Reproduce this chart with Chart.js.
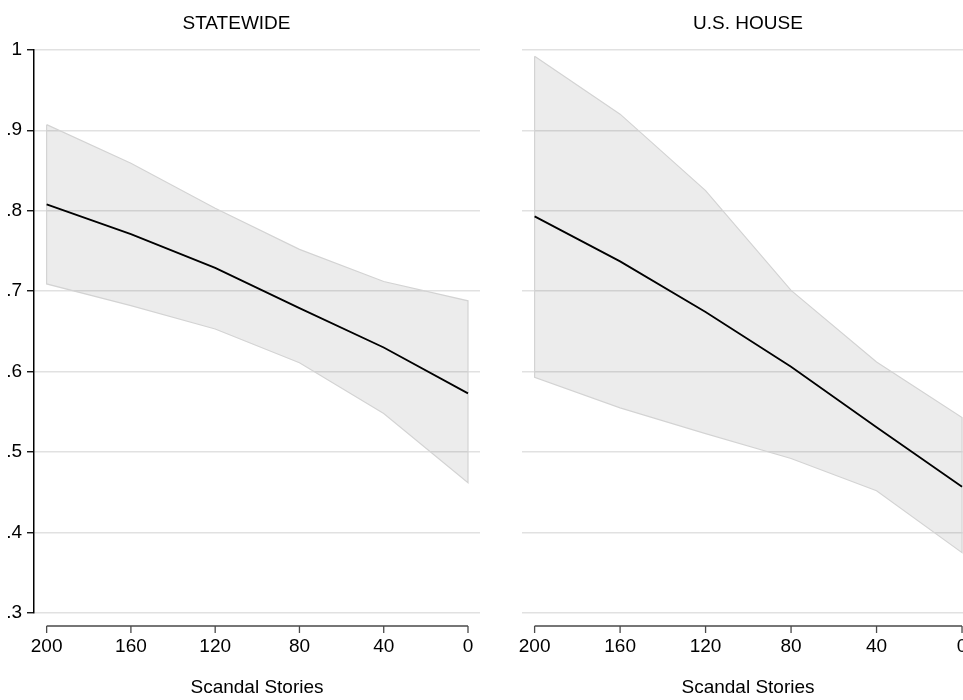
<!DOCTYPE html>
<html>
<head>
<meta charset="utf-8">
<script src="https://cdn.jsdelivr.net/npm/chart.js@4.4.1/dist/chart.umd.min.js"></script>
<style>
html, body { margin: 0; padding: 0; background: #fff; width: 963px; height: 700px; overflow: hidden; }
#wrap { position: relative; width: 963px; height: 700px; overflow: hidden; }
#leftChart { position: absolute; left: -7px; top: 0; }
#rightChart { position: absolute; left: 482px; top: 0; }
</style>
</head>
<body>
<div id="wrap">
    <canvas id="leftChart" width="489" height="700"></canvas>
    <canvas id="rightChart" width="520" height="700"></canvas>
</div>
<script>
// Data
const scandalStories = [200, 160, 120, 80, 40, 0];

const statewideMean  = [0.808, 0.771, 0.729, 0.679, 0.630, 0.573];
const statewideUpper = [0.907, 0.859, 0.803, 0.752, 0.712, 0.688];
const statewideLower = [0.709, 0.682, 0.653, 0.611, 0.548, 0.462];

const houseMean  = [0.793, 0.737, 0.674, 0.606, 0.531, 0.457];
const houseUpper = [0.992, 0.920, 0.825, 0.701, 0.612, 0.543];
const houseLower = [0.593, 0.555, 0.523, 0.492, 0.452, 0.375];

const xTicks = [200, 160, 120, 80, 40, 0];
const yTicks = [0.3, 0.4, 0.5, 0.6, 0.7, 0.8, 0.9, 1];
const yTickLabels = ['.3', '.4', '.5', '.6', '.7', '.8', '.9', '1'];

Chart.defaults.font.family = "'Liberation Sans', Arial, Helvetica, sans-serif";
Chart.defaults.color = '#000';

const bandFill = 'rgba(0, 0, 0, 0.075)';
const bandEdge = '#d3d3d3';
const gridColor = '#e1e1e1';

// Stata-style x axis: line only between first and last tick, set below the plot
const xAxisLine = {
    id: 'xAxisLine',
    afterDraw(chart) {
        const x = chart.scales.x;
        const ctx = chart.ctx;
        const y = chart.chartArea.bottom + 13;
        ctx.save();
        ctx.strokeStyle = '#4a4a4a';
        ctx.lineWidth = 1.3;
        ctx.beginPath();
        ctx.moveTo(x.getPixelForValue(xTicks[0]), y);
        ctx.lineTo(x.getPixelForValue(xTicks[xTicks.length - 1]), y);
        xTicks.forEach(v => {
            const px = x.getPixelForValue(v);
            ctx.moveTo(px, y);
            ctx.lineTo(px, y + 7);
        });
        ctx.stroke();
        ctx.restore();
    }
};

function points(values) {
    return scandalStories.map((s, i) => ({ x: s, y: values[i] }));
}

// closed outline of the band: upper edge, down the right side, lower edge back, up the left side
function outline(upper, lower) {
    const pts = points(upper);
    return pts.concat(points(lower).reverse(), [pts[0]]);
}

function makeChart(canvasId, title, mean, upper, lower, opts) {
    const ctx = document.getElementById(canvasId).getContext('2d');
    return new Chart(ctx, {
        type: 'line',
        data: {
            datasets: [
                {
                    label: 'mean',
                    data: points(mean),
                    borderColor: '#000',
                    borderWidth: 1.8,
                    pointRadius: 0,
                    fill: false,
                    tension: 0
                },
                {
                    label: 'outline',
                    data: outline(upper, lower),
                    borderColor: bandEdge,
                    borderWidth: 1.2,
                    pointRadius: 0,
                    fill: false,
                    tension: 0
                },
                {
                    label: 'upper',
                    data: points(upper),
                    borderWidth: 0,
                    pointRadius: 0,
                    backgroundColor: bandFill,
                    fill: '+1',
                    tension: 0
                },
                {
                    label: 'lower',
                    data: points(lower),
                    borderWidth: 0,
                    pointRadius: 0,
                    fill: false,
                    tension: 0
                }
            ]
        },
        options: {
            responsive: false,
            animation: false,
            layout: { padding: opts.padding },
            plugins: {
                legend: { display: false },
                tooltip: { enabled: false },
                title: {
                    display: true,
                    text: title,
                    color: '#000',
                    font: { size: 19, weight: 'normal' },
                    padding: { top: 12, bottom: 15 }
                }
            },
            scales: {
                x: {
                    type: 'linear',
                    reverse: true,
                    min: opts.xMin,
                    max: opts.xMax,
                    afterBuildTicks: s => { s.ticks = xTicks.map(v => ({ value: v })); },
                    afterFit: s => {
                        s.height = 87;
                        // end ticks sit inside the plot, so no extra side room is needed
                        s.paddingLeft = 0;
                        s.paddingRight = 0;
                    },
                    border: { display: false },
                    grid: { display: false, drawTicks: false },
                    ticks: {
                        padding: 22,
                        color: '#000',
                        font: { size: 19 },
                        maxRotation: 0
                    },
                    title: {
                        display: true,
                        text: 'Scandal Stories',
                        color: '#000',
                        font: { size: 19 },
                        padding: { top: 0, bottom: 1 }
                    }
                },
                y: {
                    min: yTicks[0],
                    max: yTicks[yTicks.length - 1],
                    afterBuildTicks: s => { s.ticks = yTicks.map(v => ({ value: v })); },
                    afterFit: s => { s.width = opts.yWidth; },
                    border: { display: opts.showY, color: '#000', width: 1.5 },
                    grid: {
                        color: gridColor,
                        lineWidth: 1.5,
                        drawTicks: opts.showY,
                        tickLength: 7,
                        tickColor: '#000',
                        tickWidth: 1.3
                    },
                    ticks: {
                        display: opts.showY,
                        padding: 5,
                        color: '#000',
                        font: { size: 19 },
                        callback: (v, i) => yTickLabels[i]
                    }
                }
            }
        },
        plugins: [xAxisLine]
    });
}

makeChart('leftChart', 'STATEWIDE', statewideMean, statewideUpper, statewideLower, {
    padding: { left: 0, right: 2, top: 0, bottom: 0 },
    xMin: -5.7,
    xMax: 206.0,
    yWidth: 41,
    showY: true
});

makeChart('rightChart', 'U.S. HOUSE', houseMean, houseUpper, houseLower, {
    padding: { left: 40, right: 28, top: 0, bottom: 0 },
    xMin: -5.6,
    xMax: 205.9,
    yWidth: 0,
    showY: false
});
</script>
</body>
</html>
